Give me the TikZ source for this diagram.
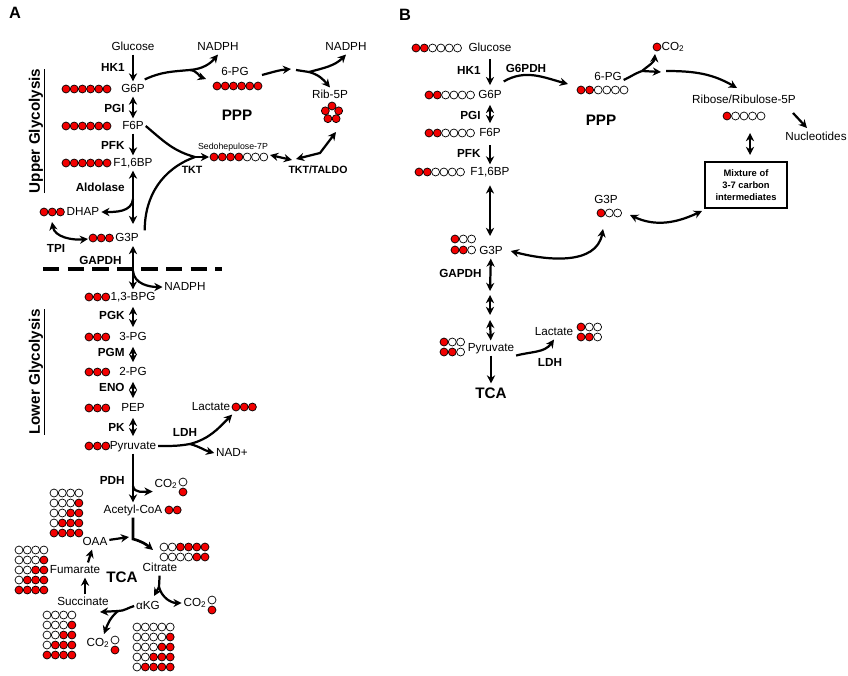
\documentclass[tikz,border=0pt]{standalone}
\usepackage{fontspec}
\setmainfont{Liberation Sans}
\usetikzlibrary{arrows.meta,positioning,calc}

\colorlet{cR}{red!95!black}
\colorlet{cW}{white}

% one row of carbon atoms: [spacing]{x}{y}{R/W list}
\newcommand{\carbons}[4][8.2]{%
  \foreach \cc [count=\kk from 0] in {#4} {\draw[atom, fill=c\cc] (#2+#1*\kk, #3) circle (3.4pt);}}
% labelling grid of a TCA intermediate: {x}{y}{columns}
\newcommand{\tcagrid}[3]{%
  \foreach \jj in {0,...,4} {
    \foreach \ii in {1,...,#3} {
      \pgfmathtruncatemacro{\nred}{\ii+\jj}
      \ifnum\nred>#3 \def\atomcol{cR}\else\def\atomcol{cW}\fi
      \draw[atom, fill=\atomcol] (#1+8.3*\ii-8.3, #2-10*\jj) circle (3.4pt);
    }}}

\begin{document}
\begin{tikzpicture}[x=0.03cm, y=0.03cm,
    met/.style={font=\fontsize{10}{12}\selectfont, inner sep=1.5pt,
                text height=7.5pt, text depth=2pt},
    enz/.style={font=\fontsize{10}{12}\selectfont\bfseries, inner sep=1pt},
    enzA/.style={enz, anchor=east},
    small/.style={font=\fontsize{9}{11}\selectfont\bfseries, inner sep=1pt},
    big/.style={font=\fontsize{13}{15}\selectfont\bfseries},
    panel/.style={font=\fontsize{14}{16}\selectfont\bfseries},
    box/.style={draw, line width=1.5pt, minimum width=2.46cm, minimum height=1.38cm,
                align=center, font=\fontsize{8}{10}\selectfont\bfseries},
    atom/.style={draw=black, line width=0.6pt},
    flux/.style={line width=1.9pt},
    arr/.style={-{Stealth[length=7pt,width=7pt]}, line width=1.9pt},
    darr/.style={{Stealth[length=7pt,width=7pt]}-{Stealth[length=7pt,width=7pt]},
                 line width=1.9pt}
  ]
  \useasboundingbox (0,0) rectangle (848,-675);

  %% --- Panel A ---
  \node[panel] (lblA) at (15,-13) {A};
  \node[big, rotate=90] (upA)  at (37,-131) {\underline{Upper Glycolysis}};
  \node[big, rotate=90] (lowA) at (37,-372) {\underline{Lower Glycolysis}};
  % upper glycolysis
  \node[met] (glcA)  at (133,-47)  {Glucose};
  \node[met] (g6pA)  at (133,-89)  {G6P};
  \node[met] (f6pA)  at (133,-126) {F6P};
  \node[met] (f16A)  at (133,-163) {F1,6BP};
  \node[met] (dhapA) at (83,-212)  {DHAP};
  \node[met] (g3pA)  at (127,-238) {G3P};
  \node[enzA] (hk1A) at (126,-67)  {HK1};
  \node[enzA] (pgiA) at (126,-108) {PGI};
  \node[enzA] (pfkA) at (126,-145) {PFK};
  \node[enzA] (aldA) at (126,-187) {Aldolase};
  \node[enz]  (tpiA) at (56,-248)  {TPI};
  \node[enzA] (gapA) at (123,-260) {GAPDH};
  \carbons{66}{-89}{R,R,R,R,R,R}
  \carbons{66}{-126}{R,R,R,R,R,R}
  \carbons{66}{-163}{R,R,R,R,R,R}
  \carbons{44}{-212}{R,R,R}
  \carbons{93}{-238}{R,R,R}
  % PPP
  \node[met] (nadph1A) at (218,-47) {NADPH};
  \node[met] (pg6A)    at (235,-72) {6-PG};
  \node[big] (pppA)    at (237,-115) {PPP};
  \node[met] (nadph2A) at (346,-47) {NADPH};
  \node[met] (rib5pA)  at (330,-95) {Rib-5P};
  \node[met, font=\fontsize{7.5}{9}\selectfont] (sedoA) at (233,-146) {Sedohepulose-7P};
  \node[small] (tkt1A) at (192,-170) {TKT};
  \node[small] (tkt2A) at (318,-170) {TKT/TALDO};
  \carbons{217}{-86}{R,R,R,R,R,R}
  \carbons[8.3]{214}{-157}{R,R,R,R,W,W,W}
  \foreach \a in {90,162,...,378}
    \draw[atom, fill=cR] ($(332,-113)+(\a:7)$) circle (3.4pt);
  % lower glycolysis
  \node[met] (nadph3A) at (185,-287) {NADPH};
  \node[met] (bpgA)  at (133,-297) {1,3-BPG};
  \node[met] (pg3A)  at (133,-337) {3-PG};
  \node[met] (pg2A)  at (133,-372) {2-PG};
  \node[met] (pepA)  at (133,-408) {PEP};
  \node[met] (pyrA)  at (133,-446) {Pyruvate};
  \node[met] (lacA)  at (211,-407) {Lactate};
  \node[met] (nadA)  at (232,-453) {NAD+};
  \node[met] (co2aA) at (166,-484) {CO\textsubscript{2}};
  \node[met] (acoaA) at (133,-510) {Acetyl-CoA};
  \node[enzA] (pgkA) at (126,-315) {PGK};
  \node[enzA] (pgmA) at (126,-352) {PGM};
  \node[enzA] (enoA) at (126,-387) {ENO};
  \node[enzA] (pkA)  at (126,-427) {PK};
  \node[enz]  (ldhA) at (185,-432) {LDH};
  \node[enzA] (pdhA) at (126,-480) {PDH};
  \foreach \yy in {-297,-337,-372,-408,-446} {\carbons[8.4]{89}{\yy}{R,R,R}}
  \carbons{236}{-407}{R,R,R}
  \carbons{169}{-510}{R,R}
  \draw[atom, fill=cW] (183,-482) circle (3.4pt);
  \draw[atom, fill=cR] (183,-492) circle (3.4pt);
  % TCA cycle
  \node[met] (oaaA)  at (95,-542)  {OAA};
  \node[met] (citA)  at (160,-568) {Citrate};
  \node[met] (fumA)  at (75,-570)  {Fumarate};
  \node[met] (sucA)  at (83,-602)  {Succinate};
  \node[met] (akgA)  at (148,-606) {αKG};
  \node[met] (co2bA) at (195,-603) {CO\textsubscript{2}};
  \node[met] (co2cA) at (98,-643)  {CO\textsubscript{2}};
  \node[big] (tcaA)  at (122,-577) {TCA};
  \carbons{164}{-547}{W,W,R,R,R,R}
  \carbons{164}{-557}{W,W,W,W,R,R}
  \tcagrid{54}{-493}{4}
  \tcagrid{19}{-550}{4}
  \tcagrid{47}{-615}{4}
  \tcagrid{137}{-627}{5}
  \draw[atom, fill=cW] (212,-600) circle (3.4pt);
  \draw[atom, fill=cR] (212,-610) circle (3.4pt);
  \draw[atom, fill=cW] (115,-640) circle (3.4pt);
  \draw[atom, fill=cR] (115,-650) circle (3.4pt);

  % junctions
  \coordinate (g6pdhJ) at (190,-70);
  \coordinate (pg6In)  at (206,-79);
  \coordinate (pg6Out) at (262,-75);
  \coordinate (ppJa)   at (291,-69);
  \coordinate (ppS)    at (296,-70);
  \coordinate (ppJ)    at (309,-72);
  \coordinate (tktJ)   at (195,-157);
  \coordinate (sedoIn) at (209,-157);
  \coordinate (sedoOut) at (270,-155);
  \coordinate (ttL)    at (292,-160);
  \coordinate (ttR)    at (296,-159);
  \coordinate (ttB)    at (320,-153);
  \coordinate (ribIn)  at (336,-132);
  \coordinate (aldoJ)  at (133,-199);
  \coordinate (aldoEnd) at (133,-224);
  \coordinate (tpiS)   at (52,-222);
  \coordinate (tpiE)   at (88,-239);
  \coordinate (gapTop) at (133,-246);
  \coordinate (gapJ)   at (133,-271);
  \coordinate (ldhJ)   at (190,-444);
  \coordinate (pdhJ)   at (133,-486);
  \coordinate (tcaJ)   at (133,-539);
  \coordinate (citIn)  at (153,-550);
  \coordinate (oaaTip) at (129,-537);
  \coordinate (citJ)   at (159,-587);
  \coordinate (akgIn)  at (154,-596);
  \coordinate (akgJ)   at (118,-611);
  \coordinate (sucIn)  at (100,-612);
  \coordinate (co2cIn) at (104,-634);

  % glycolysis arrows
  \draw[arr]  (glcA) -- (g6pA);
  \draw[darr] (g6pA) -- (f6pA);
  \draw[arr]  (f6pA) -- (f16A);
  \draw[darr] (f16A) -- (aldoEnd);
  \draw[arr]  (aldoJ) to[out=-95, in=0] (dhapA);
  \draw[darr] (tpiS) to[out=-80, in=185] (tpiE);
  \draw[line width=2.6pt, dash pattern=on 14pt off 7pt] (43,-269) -- (222,-269);
  \draw[darr] (gapTop) -- (bpgA);
  \draw[arr]  (gapJ) to[out=-85, in=180] (nadph3A);
  \draw[darr, shorten <=2pt, shorten >=2pt] (bpgA) -- (pg3A);
  \draw[darr, shorten <=2pt, shorten >=2pt] (pg3A) -- (pg2A);
  \draw[darr, shorten <=2pt, shorten >=2pt] (pg2A) -- (pepA);
  \draw[darr, shorten <=2pt, shorten >=2pt] (pepA) -- (pyrA);
  \draw[flux] (pyrA.east) to[out=0, in=190] (ldhJ);
  \draw[arr]  (ldhJ) to[out=15, in=225] (lacA.south east);
  \draw[arr]  (ldhJ) to[out=-15, in=165] (nadA.west);
  \draw[arr]  (pyrA) -- (acoaA);
  \draw[arr]  (pdhJ) to[out=-80, in=180] (co2aA.south west);
  % PPP arrows
  \draw[flux] ($(g6pA.north east)+(-2,2)$) to[out=25, in=185] (g6pdhJ);
  \draw[arr]  (g6pdhJ) to[out=5, in=230] (nadph1A.south);
  \draw[arr]  (g6pdhJ) to[out=-5, in=160] (pg6In);
  \draw[arr]  (pg6Out) to[out=15, in=185] (ppJa);
  \draw[flux] (ppS) -- (ppJ);
  \draw[arr]  (ppJ) to[out=15, in=225] (nadph2A.south);
  \draw[arr]  (ppJ) to[out=-15, in=130] (rib5pA.north);
  \draw[flux] (f6pA.east) to[out=-40, in=165] (tktJ);
  \draw[flux] ($(g3pA.north east)+(4,0)$) to[out=90, in=200] (tktJ);
  \draw[arr]  (tktJ) -- (sedoIn);
  \draw[darr] (sedoOut) -- (ttL);
  \draw[darr] (ttR) -- (ttB) -- (ribIn);
  % TCA arrows
  \draw[arr, line width=2.3pt] (acoaA) -- (tcaJ) to[out=-15, in=140] (citIn);
  \draw[arr]  (oaaA) -- (oaaTip);
  \draw[flux] (citA) -- (citJ);
  \draw[arr]  (citJ) -- (akgIn);
  \draw[arr]  (citJ) to[out=-75, in=180] (co2bA.west);
  \draw[flux] (akgA.west) to[out=195, in=0] (akgJ);
  \draw[arr]  (akgJ) -- (sucIn);
  \draw[arr]  (akgJ) to[out=220, in=70] (co2cIn);
  \draw[arr]  ($(sucA.north)+(2,0)$) -- ($(fumA.south)+(10,0)$);
  \draw[arr]  ($(fumA.north)+(13,0)$) -- ($(oaaA.south)+(-3,0)$);

  %% --- Panel B ---
  \node[panel] (lblB) at (405,-15) {B};
  \node[met] (glcB)  at (490,-48)  {Glucose};
  \node[met] (g6pB)  at (490,-95)  {G6P};
  \node[met] (f6pB)  at (490,-133) {F6P};
  \node[met] (f16B)  at (490,-172) {F1,6BP};
  \node[met] (g3pB)  at (491,-251) {G3P};
  \node[met] (pyrB)  at (491,-348) {Pyruvate};
  \node[met] (lacB)  at (554,-332) {Lactate};
  \node[big] (tcaB)  at (491,-393) {TCA};
  \node[enzA] (hk1B) at (482,-70)  {HK1};
  \node[enz]  (g6pdhB) at (526,-68) {G6PDH};
  \node[enzA] (pgiB) at (482,-115) {PGI};
  \node[enzA] (pfkB) at (482,-153) {PFK};
  \node[enzA] (gapB) at (483,-273) {GAPDH};
  \node[enz]  (ldhB) at (550,-362) {LDH};
  \node[met] (pg6B)  at (608,-77)  {6-PG};
  \node[big] (pppB)  at (601,-120) {PPP};
  \node[met] (co2B)  at (673,-47)  {CO\textsubscript{2}};
  \node[met] (ribB)  at (744,-100) {Ribose/Ribulose-5P};
  \node[met] (nucB)  at (816,-137) {Nucleotides};
  \node[met] (g3pB2) at (606,-200) {G3P};
  \node[box] (mixB)  at (746,-185) {Mixture of\\3-7 carbon\\intermediates};
  \carbons[8.3]{416}{-48}{R,R,W,W,W,W}
  \carbons[8.3]{429}{-95}{R,R,W,W,W,W}
  \carbons[8.3]{429}{-133}{R,R,W,W,W,W}
  \carbons[8.3]{419}{-172}{R,R,W,W,W,W}
  \carbons[8.3]{455}{-239}{R,W,W}
  \carbons[8.3]{455}{-250}{R,R,W}
  \carbons[8.3]{444}{-342}{R,W,W}
  \carbons[8.3]{444}{-352}{R,R,W}
  \carbons[8.3]{581}{-327}{R,W,W}
  \carbons[8.3]{581}{-337}{R,R,W}
  \carbons[8.6]{581}{-90}{R,R,W,W,W,W}
  \carbons[8.5]{727}{-116}{R,W,W,W,W}
  \carbons[8.3]{601}{-213}{R,W,W}
  \draw[atom, fill=cR] (657,-47) circle (3.4pt);

  \coordinate (pg6BIn)  at (568,-84);
  \coordinate (pg6BJ)   at (642,-71);
  \coordinate (pg6BJr)  at (661,-72);
  \coordinate (co2BIn)  at (655,-54);
  \coordinate (ribBs)   at (666,-71);
  \coordinate (ribBIn)  at (737,-88);
  \coordinate (nucOut)  at (793,-113);
  \coordinate (nucIn)   at (807,-128);
  \coordinate (mixTop)  at (750,-133);
  \coordinate (mixUp)   at (750,-155);
  \coordinate (mixIn)   at (702,-211);
  \coordinate (g3pBtop) at (490,-236);
  \coordinate (g3pB2In) at (603,-229);
  \coordinate (g3pB2Out) at (630,-215);
  \coordinate (bGa) at (490,-291);
  \coordinate (bGb) at (490,-295);
  \coordinate (bGc) at (490,-315);
  \coordinate (bGd) at (490,-320);

  \draw[arr, shorten <=3pt, shorten >=2pt]  (glcB) -- (g6pB);
  \draw[darr, shorten <=2pt, shorten >=2pt] (g6pB) -- (f6pB);
  \draw[arr, shorten <=4pt]  (f6pB) -- (f16B);
  \draw[darr, shorten <=5pt] (f16B) -- (g3pBtop);
  \draw[darr] (g3pB) -- (bGa);
  \draw[darr] (bGb) -- (bGc);
  \draw[darr] (bGd) -- (pyrB);
  \draw[arr]  (pyrB.south east) to[out=15, in=235] (lacB.south);
  \draw[arr]  (pyrB) -- (tcaB);
  \draw[arr]  ($(g6pB.north east)+(0,6)$) to[out=30, in=165] (pg6BIn);
  \draw[flux] ($(pg6B.east)+(0,-3)$) to[out=25, in=200] (pg6BJ);
  \draw[arr]  (pg6BJ) -- (pg6BJr);
  \draw[arr]  (pg6BJ) to[out=40, in=265] (co2BIn);
  \draw[arr]  (ribBs) to[out=0, in=150] (ribBIn);
  \draw[arr]  (nucOut) -- (nucIn);
  \draw[darr] (mixTop) -- (mixUp);
  \draw[darr] ($(g3pB.east)+(6,0)$) to[out=-15, in=-100] (g3pB2In);
  \draw[darr] (g3pB2Out) to[out=-25, in=205] (mixIn);
\end{tikzpicture}
\end{document}
